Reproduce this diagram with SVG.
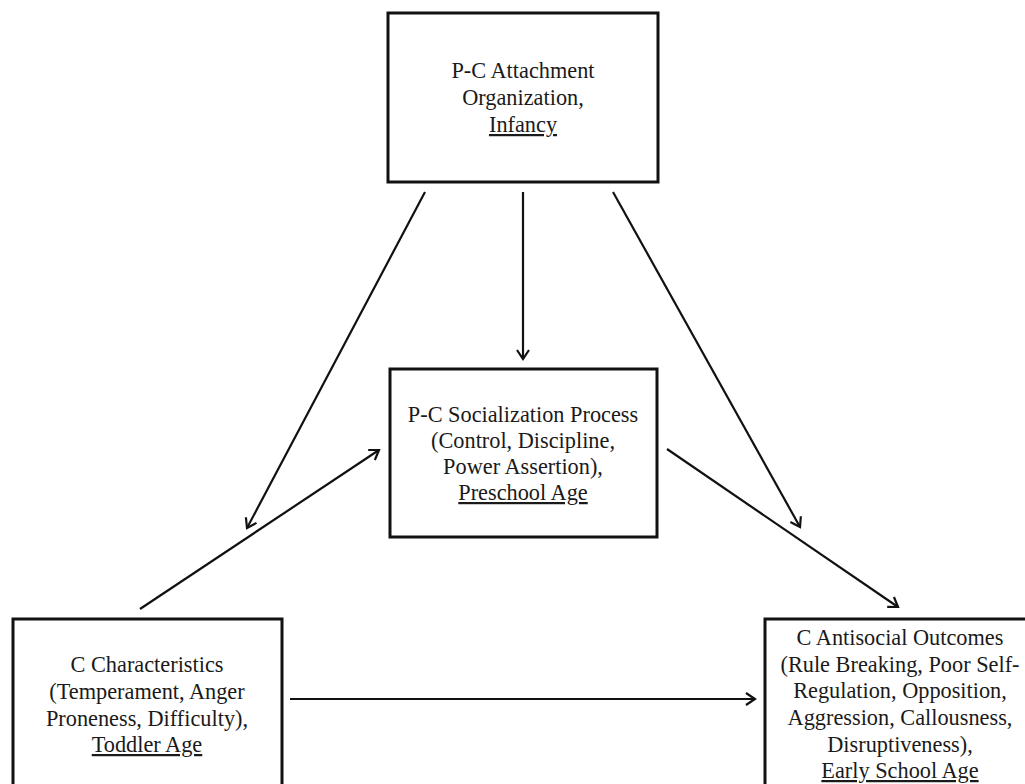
<svg xmlns="http://www.w3.org/2000/svg" width="1025" height="784" viewBox="0 0 1025 784">
<style>
.box{fill:#fff;stroke:#111;stroke-width:3}
.t{font-size:22.3px;fill:#1a1a1a;text-anchor:middle}
.u{text-decoration:underline}
.c{stroke:#111;stroke-width:2.2;fill:none;marker-end:url(#ah)}
</style>
<defs>
<marker id="ah" markerUnits="userSpaceOnUse" markerWidth="16" markerHeight="16" viewBox="0 0 16 16" refX="14" refY="8" orient="auto">
<path d="M5,2 L14,8 L5,14" fill="none" stroke="#111" stroke-width="2.2"/>
</marker>
</defs>
<rect width="1025" height="784" fill="#fff"/>
<g id="connectors">
<line class="c" x1="425" y1="192" x2="247" y2="528"/>
<line class="c" x1="523" y1="192" x2="523" y2="359"/>
<line class="c" x1="613" y1="192" x2="800" y2="527"/>
<line class="c" x1="140" y1="609" x2="379" y2="450"/>
<line class="c" x1="667" y1="449" x2="898" y2="607"/>
<line class="c" x1="290" y1="699" x2="755" y2="699"/>
</g>
<g id="attachment" font-family="Liberation Serif, Times New Roman, serif">
<rect class="box" x="388" y="13" width="270" height="169"/>
<text class="t" x="523" y="78">P-C Attachment</text>
<text class="t" x="523" y="105">Organization,</text>
<text class="t u" x="523" y="132">Infancy</text>
</g>
<g id="socialization" font-family="Liberation Serif, Times New Roman, serif">
<rect class="box" x="390" y="369" width="267" height="168"/>
<text class="t" x="523" y="422">P-C Socialization Process</text>
<text class="t" x="523" y="448">(Control, Discipline,</text>
<text class="t" x="523" y="474">Power Assertion),</text>
<text class="t u" x="523" y="500">Preschool Age</text>
</g>
<g id="characteristics" font-family="Liberation Serif, Times New Roman, serif">
<rect class="box" x="13" y="619" width="269" height="180"/>
<text class="t" x="147" y="672">C Characteristics</text>
<text class="t" x="147" y="699">(Temperament, Anger</text>
<text class="t" x="147" y="726">Proneness, Difficulty),</text>
<text class="t u" x="147" y="752">Toddler Age</text>
</g>
<g id="outcomes" font-family="Liberation Serif, Times New Roman, serif">
<rect class="box" x="765" y="619" width="270" height="180"/>
<text class="t" x="900" y="645">C Antisocial Outcomes</text>
<text class="t" x="900" y="672">(Rule Breaking, Poor Self-</text>
<text class="t" x="900" y="698">Regulation, Opposition,</text>
<text class="t" x="900" y="725">Aggression, Callousness,</text>
<text class="t" x="900" y="752">Disruptiveness),</text>
<text class="t u" x="900" y="778">Early School Age</text>
</g>
</svg>
